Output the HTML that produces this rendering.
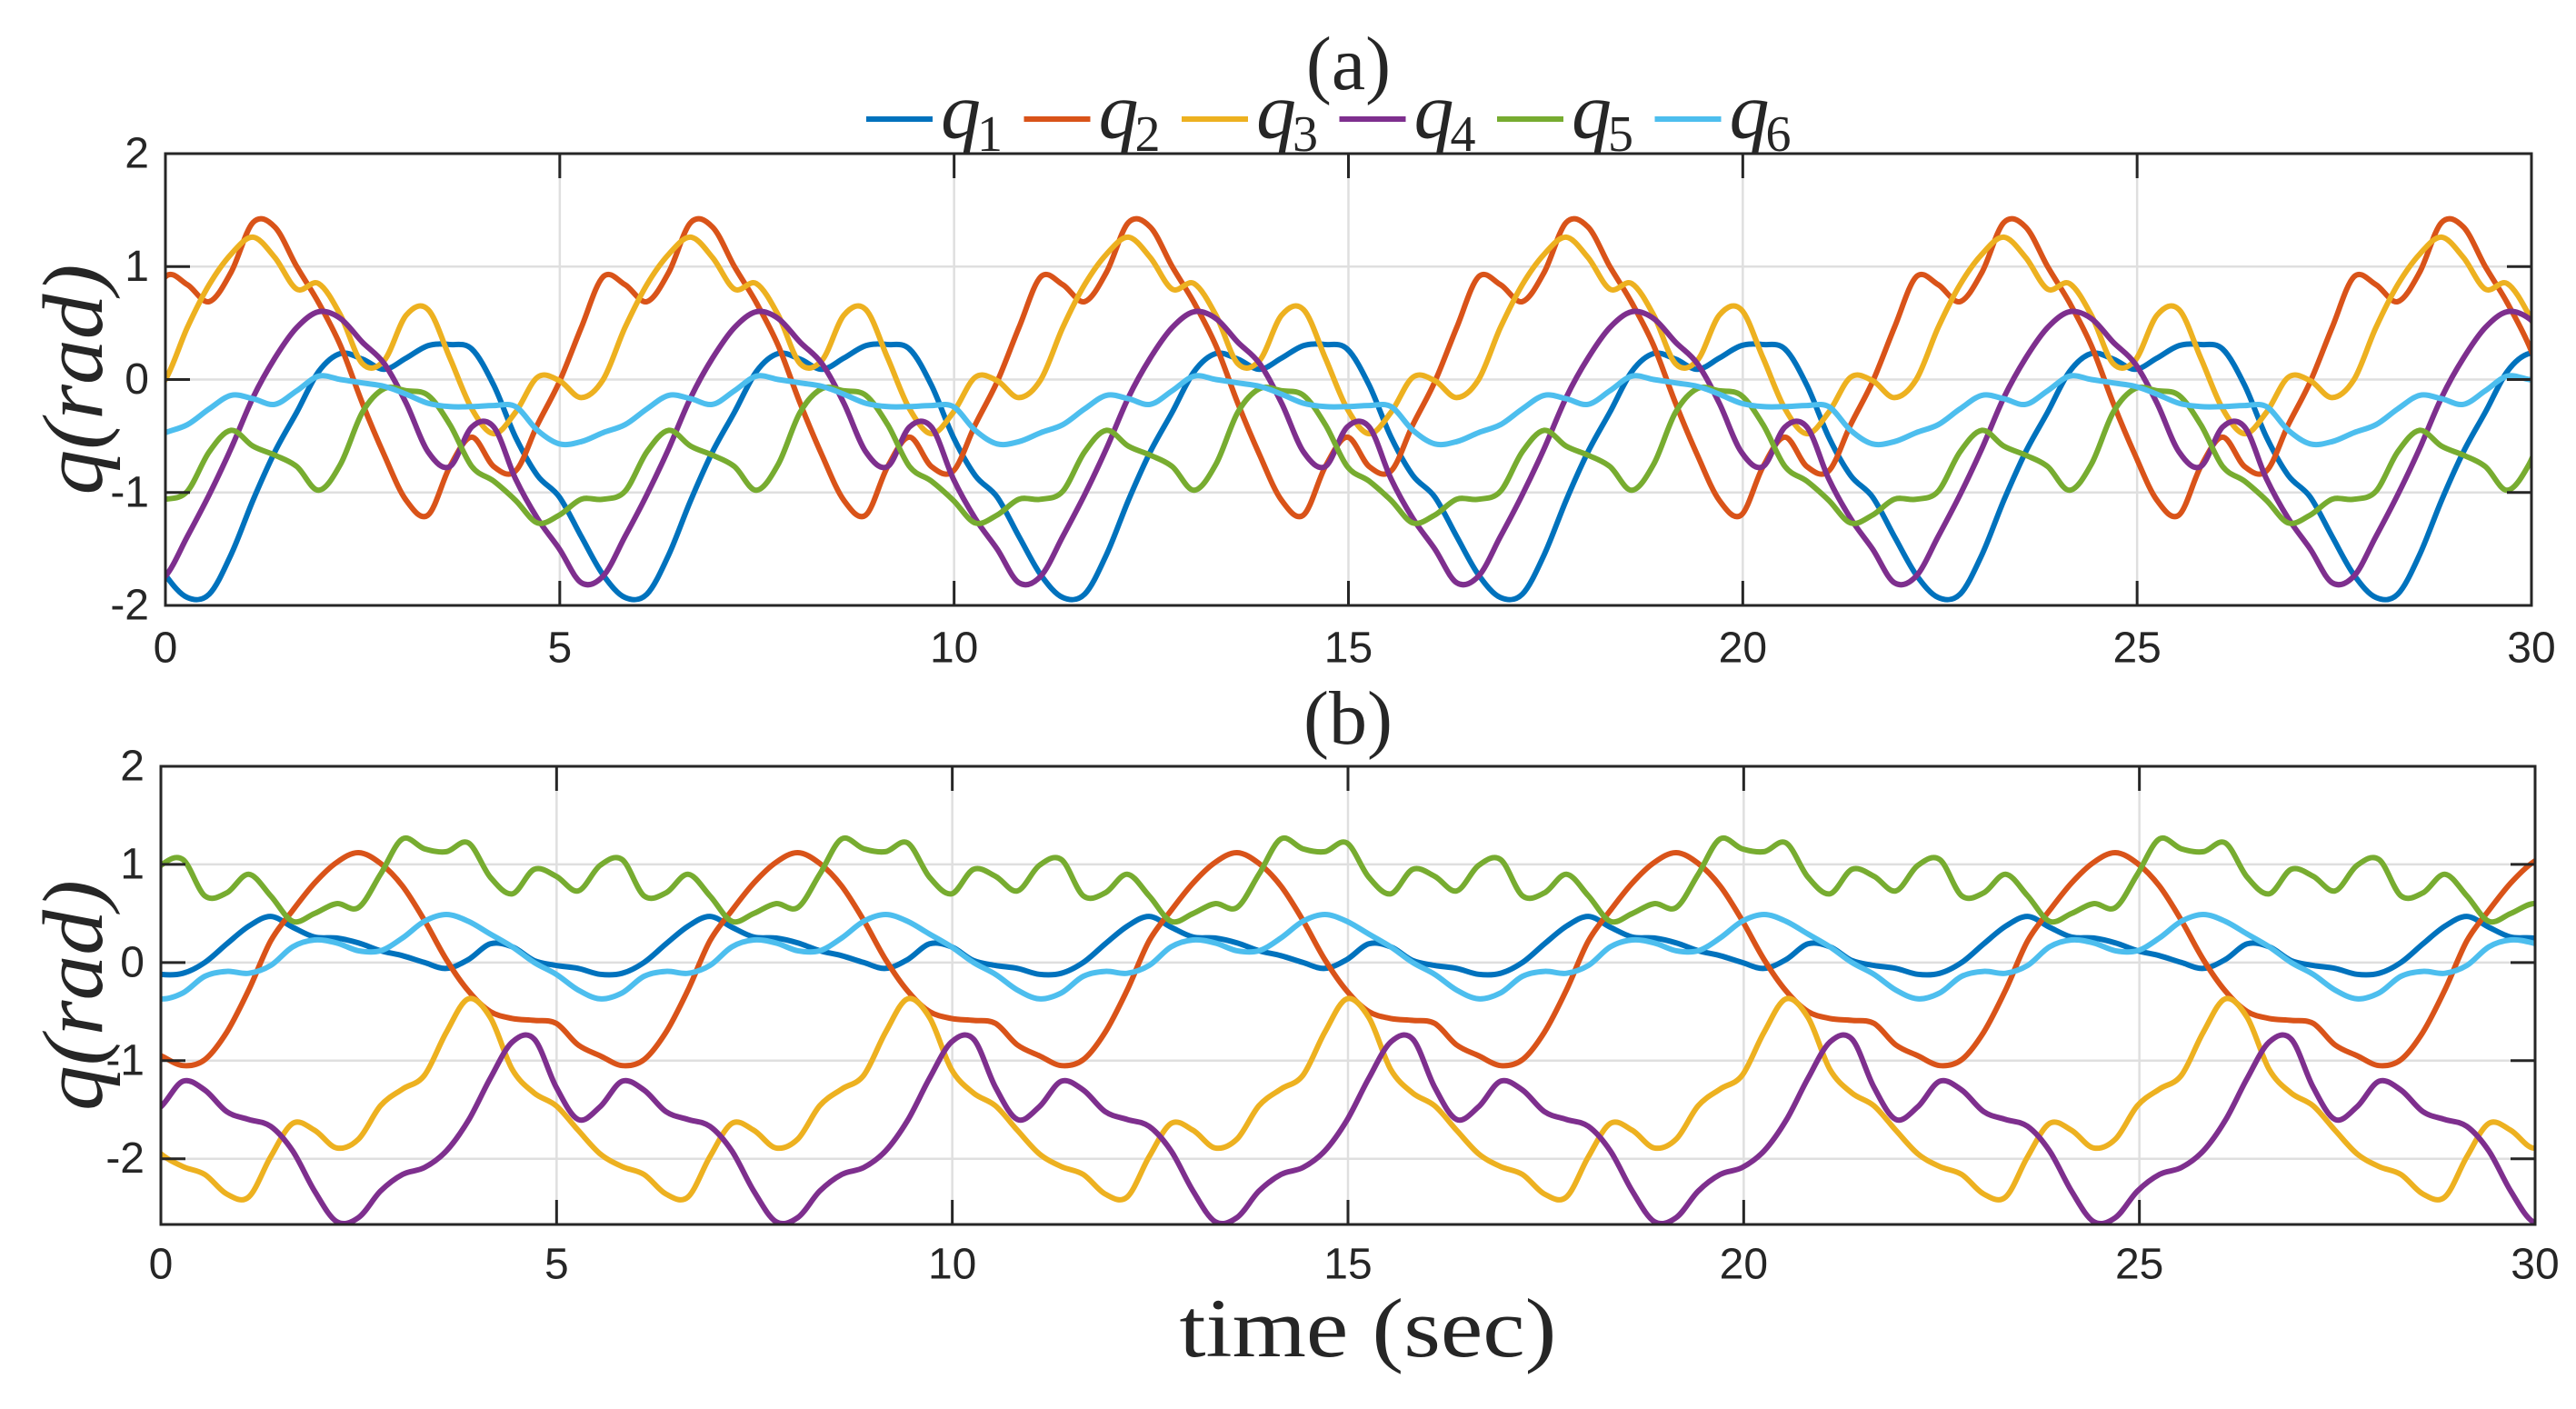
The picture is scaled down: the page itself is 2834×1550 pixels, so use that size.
<!DOCTYPE html>
<html><head><meta charset="utf-8"><style>
html,body{margin:0;padding:0;background:#fff;}
svg{display:block;}
.tick{font-family:"Liberation Sans",Arial,sans-serif;font-size:48px;fill:#262626;}
.serif{font-family:"Liberation Serif","Times New Roman",serif;fill:#262626;}
</style></head><body>
<svg id="chart" width="2834" height="1550" viewBox="0 0 2834 1550" xmlns="http://www.w3.org/2000/svg">
<rect x="0" y="0" width="2834" height="1550" fill="#fff"/>
<g id="layer"></g>
</svg>
<script>
// ---- data (one cycle of each periodic joint trajectory, 20 samples per period) ----
const period = 5.55;
const seriesNames = ["q1","q2","q3","q4","q5","q6"];
const seriesColors = ["#0072BD","#D95319","#EDB120","#7E2F8E","#77AC30","#4DBEEE"];
const xTicks = [0,5,10,15,20,25,30];
const yTicksA = [-2,-1,0,1,2];
const yTicksB = [-2,-1,0,1,2];
// Plot (a)
const a_q1 = [-1.73,-1.93,-1.90,-1.55,-1.07,-0.64,-0.29,0.07,0.23,0.18,0.09,0.19,0.30,0.31,0.27,-0.05,-0.51,-0.85,-1.04,-1.39];
const a_q2 = [0.91,0.84,0.69,0.95,1.39,1.35,1.00,0.68,0.30,-0.21,-0.67,-1.07,-1.20,-0.77,-0.51,-0.77,-0.81,-0.40,-0.02,0.46];
const a_q3 = [0.00,0.46,0.84,1.11,1.26,1.08,0.80,0.85,0.57,0.14,0.17,0.57,0.62,0.19,-0.26,-0.48,-0.29,0.02,-0.01,-0.16];
const a_q4 = [-1.74,-1.39,-1.02,-0.61,-0.16,0.19,0.46,0.60,0.54,0.33,0.14,-0.21,-0.64,-0.77,-0.42,-0.42,-0.88,-1.23,-1.50,-1.80];
const a_q5 = [-1.06,-0.99,-0.64,-0.45,-0.59,-0.67,-0.77,-0.98,-0.75,-0.29,-0.08,-0.10,-0.14,-0.40,-0.77,-0.90,-1.07,-1.27,-1.20,-1.06];
const a_q6 = [-0.47,-0.40,-0.26,-0.14,-0.17,-0.22,-0.10,0.03,0.00,-0.03,-0.06,-0.13,-0.21,-0.24,-0.24,-0.23,-0.24,-0.45,-0.57,-0.55];
// Plot (b)
const b_q1 = [-0.12,-0.11,0.00,0.19,0.37,0.47,0.36,0.26,0.25,0.20,0.12,0.07,0.00,-0.06,0.03,0.19,0.16,0.02,-0.03,-0.06];
const b_q2 = [-0.95,-1.05,-0.99,-0.71,-0.28,0.22,0.53,0.81,1.02,1.12,1.01,0.78,0.43,0.03,-0.29,-0.50,-0.57,-0.59,-0.62,-0.84];
const b_q3 = [-1.95,-2.08,-2.16,-2.36,-2.39,-1.98,-1.64,-1.71,-1.89,-1.80,-1.46,-1.29,-1.15,-0.71,-0.37,-0.56,-1.09,-1.33,-1.46,-1.71];
const b_q4 = [-1.47,-1.21,-1.30,-1.52,-1.60,-1.67,-1.92,-2.33,-2.64,-2.60,-2.33,-2.16,-2.09,-1.92,-1.61,-1.18,-0.81,-0.78,-1.27,-1.60];
const b_q5 = [0.99,1.05,0.68,0.71,0.90,0.68,0.42,0.50,0.60,0.56,0.90,1.26,1.16,1.13,1.22,0.87,0.70,0.95,0.88,0.73];
const b_q6 = [-0.37,-0.31,-0.14,-0.09,-0.11,-0.03,0.16,0.23,0.20,0.12,0.12,0.25,0.42,0.49,0.42,0.29,0.16,0.00,-0.12,-0.28];

const NS = "http://www.w3.org/2000/svg";
const layer = document.getElementById('layer');
function mk(tag, attrs, parent){
  const e = document.createElementNS(NS, tag);
  for (const k in attrs) e.setAttribute(k, attrs[k]);
  (parent||layer).appendChild(e);
  return e;
}

function drawPanel(cfg){
  const {id, L, R, T, B, ymin, ymax, yTicks, series, title, titleY, xLabelY} = cfg;
  const g = mk('g', {});
  
  
  const xs = t => L + (t - 0) / 30 * (R - L);
  const ys = v => B - (v - ymin) / (ymax - ymin) * (B - T);
  xTicks.forEach(t => {
    const ln = mk('line', {x1: xs(t), x2: xs(t), y1: T, y2: B, stroke: '#dfdfdf', 'stroke-width': 2.5}, g);
    
    
  });
  yTicks.forEach(v => {
    const ln = mk('line', {x1: L, x2: R, y1: ys(v), y2: ys(v), stroke: '#dfdfdf', 'stroke-width': 2.5}, g);
    
    
  });
  const cp = mk('clipPath', {id: 'clip-' + id}, g);
  mk('rect', {x: L, y: T, width: R - L, height: B - T}, cp);
  const sg = mk('g', {'clip-path': 'url(#clip-' + id + ')'}, g);
  const step = period / 20;
  const kmax = Math.ceil(30 / step) + 2;
  series.forEach((arr, si) => {
    const pts = [];
    for (let k = -2; k <= kmax; k++) {
      const idx = ((k % arr.length) + arr.length) % arr.length;
      pts.push([xs(k * step), ys(arr[idx])]);
    }
    let d = 'M' + pts[1][0].toFixed(1) + ',' + pts[1][1].toFixed(1);
    for (let i = 1; i < pts.length - 2; i++) {
      const p0 = pts[i-1], p1 = pts[i], p2 = pts[i+1], p3 = pts[i+2];
      const c1x = p1[0] + (p2[0] - p0[0]) / 6, c1y = p1[1] + (p2[1] - p0[1]) / 6;
      const c2x = p2[0] - (p3[0] - p1[0]) / 6, c2y = p2[1] - (p3[1] - p1[1]) / 6;
      d += 'C' + c1x.toFixed(1) + ',' + c1y.toFixed(1) + ' ' + c2x.toFixed(1) + ',' + c2y.toFixed(1) + ' ' + p2[0].toFixed(1) + ',' + p2[1].toFixed(1);
    }
    const p = mk('path', {d: d, fill: 'none', stroke: seriesColors[si], 'stroke-width': 6, 'stroke-linejoin': 'round'}, sg);
    
    
  });
  const box = mk('rect', {x: L, y: T, width: R - L, height: B - T, fill: 'none', stroke: '#262626', 'stroke-width': 3}, g);
  
  
  xTicks.forEach(t => {
    mk('line', {x1: xs(t), x2: xs(t), y1: B, y2: B - 27, stroke: '#262626', 'stroke-width': 3}, g);
    mk('line', {x1: xs(t), x2: xs(t), y1: T, y2: T + 27, stroke: '#262626', 'stroke-width': 3}, g);
    const tx = mk('text', {x: xs(t), y: xLabelY, 'text-anchor': 'middle', 'dominant-baseline': 'central', class: 'tick'}, g);
    tx.textContent = String(t);
    
    
  });
  yTicks.forEach(v => {
    mk('line', {x1: L, x2: L + 27, y1: ys(v), y2: ys(v), stroke: '#262626', 'stroke-width': 3}, g);
    mk('line', {x1: R, x2: R - 27, y1: ys(v), y2: ys(v), stroke: '#262626', 'stroke-width': 3}, g);
    const tx = mk('text', {x: L - 18, y: ys(v), 'text-anchor': 'end', 'dominant-baseline': 'central', class: 'tick'}, g);
    tx.textContent = String(v);
    
    
  });
  const tt = mk('text', {x: (L + R) / 2, y: titleY, 'text-anchor': 'middle', class: 'serif', 'font-size': 84}, g);
  tt.textContent = title;
  
  
  const cy = (T + B) / 2;
  const yl = mk('text', {x: 0, y: 0, transform: 'translate(112,' + cy + ') rotate(-90)', 'text-anchor': 'middle', class: 'serif', 'font-size': 94, 'font-style': 'italic', textLength: 254, lengthAdjust: 'spacingAndGlyphs'}, g);
  yl.textContent = 'q(rad)';
  
  
}

drawPanel({id: 'a', L: 182, R: 2785, T: 169, B: 666, ymin: -2, ymax: 2, yTicks: yTicksA,
  series: [a_q1, a_q2, a_q3, a_q4, a_q5, a_q6], title: '(a)', titleY: 98, xLabelY: 713});
drawPanel({id: 'b', L: 177, R: 2789, T: 843, B: 1347, ymin: -2.67, ymax: 2, yTicks: yTicksB,
  series: [b_q1, b_q2, b_q3, b_q4, b_q5, b_q6], title: '(b)', titleY: 818, xLabelY: 1391});

const xt = mk('text', {x: 1505, y: 1492, 'text-anchor': 'middle', class: 'serif', 'font-size': 92, textLength: 415, lengthAdjust: 'spacingAndGlyphs'});
xt.textContent = 'time (sec)';



const leg = mk('g', {});


seriesNames.forEach((n, i) => {
  const x0 = 953 + i * 173.5;
  const eg = mk('g', {}, leg);
  
  
  mk('line', {x1: x0, x2: x0 + 73, y1: 131, y2: 131, stroke: seriesColors[i], 'stroke-width': 6}, eg);
  const t = mk('text', {x: x0 + 82, y: 152, class: 'serif', 'font-size': 88, 'font-style': 'italic'}, eg);
  t.textContent = 'q';
  const s = mk('text', {x: x0 + 122, y: 166, class: 'serif', 'font-size': 56}, eg);
  s.textContent = String(i + 1);
});
</script>
</body></html>
